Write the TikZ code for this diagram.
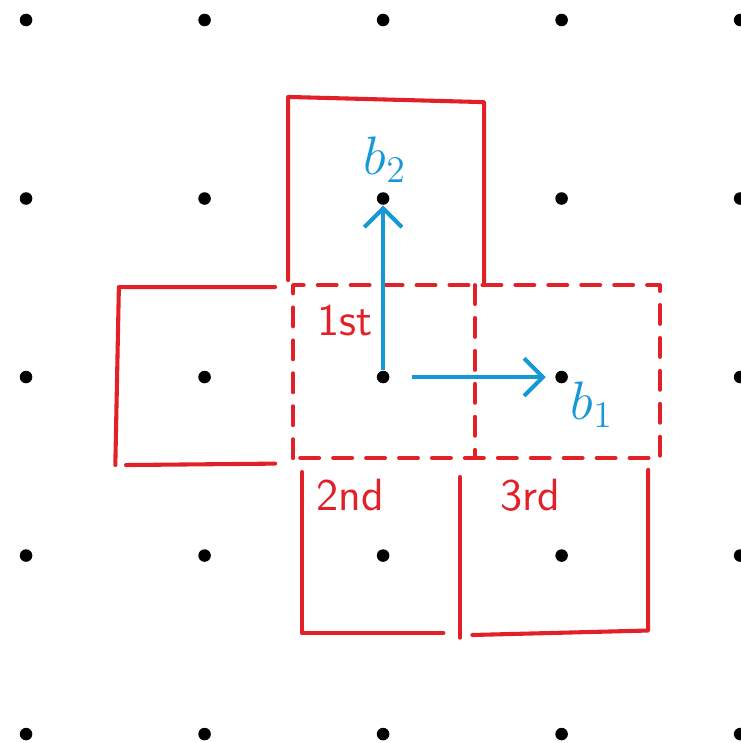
\documentclass[tikz,border=0pt]{standalone}
\usepackage{tikz}
\usetikzlibrary{arrows.meta,positioning}
\definecolor{cellred}{RGB}{226,32,40}
\definecolor{basisblue}{RGB}{22,152,214}

\begin{document}
\begin{tikzpicture}[x=2cm, y=2cm,
    point/.style={circle, fill=black, inner sep=0pt, minimum size=4pt},
    cell/.style={cellred, line width=1.3pt, line cap=round, line join=round},
    dashcell/.style={cell, dash pattern=on 6pt off 4.5pt},
    basis/.style={basisblue, line width=1.3pt, -{Straight Barb[length=6pt, width=12pt, line width=1.3pt]}},
    tag/.style={cellred, font=\Large\sffamily},
    vec/.style={basisblue, font=\LARGE}]
    \useasboundingbox (-2.146,-2.050) rectangle (2.0,2.112);

    % Lattice points
    \foreach \i in {0,...,4}
        \foreach \j in {0,...,4}
            \node[point] (p-\i-\j) at (\i-2,\j-2) {};

    % Cells
    \draw[cell] (-0.532,0.543) -- (-0.532,1.569) -- (0.566,1.540) -- (0.566,0.520);
    \draw[cell] (-0.605,0.504) -- (-1.480,0.504) -- (-1.500,-0.493);
    \draw[cell] (-1.440,-0.493) -- (-0.605,-0.485);
    \draw[dashcell] (-0.504,-0.454) rectangle (1.552,0.515);
    \draw[dashcell] (0.515,0.515) -- (0.515,-0.454);
    \draw[cell] (-0.454,-0.532) -- (-0.454,-1.434) -- (0.338,-1.434);
    \draw[cell] (0.431,-0.560) -- (0.431,-1.460);
    \draw[cell] (0.500,-1.445) -- (1.485,-1.420) -- (1.485,-0.520);

    % Labels
    \node[tag] (first) at (-0.213,0.319) {1st};
    \node[tag] (second) at (-0.185,-0.661) {2nd};
    \node[tag] (third) at (0.824,-0.661) {3rd};

    % Basis vectors
    \draw[basis] (p-2-2) -- (p-2-3);
    \draw[basis, shorten <=0.25cm, shorten >=0.1cm] (p-2-2) -- (p-3-2);
    \node[vec] (b2) at (0.011,1.216) {$b_2$};
    \node[vec] (b1) at (1.171,-0.157) {$b_1$};
\end{tikzpicture}
\end{document}
